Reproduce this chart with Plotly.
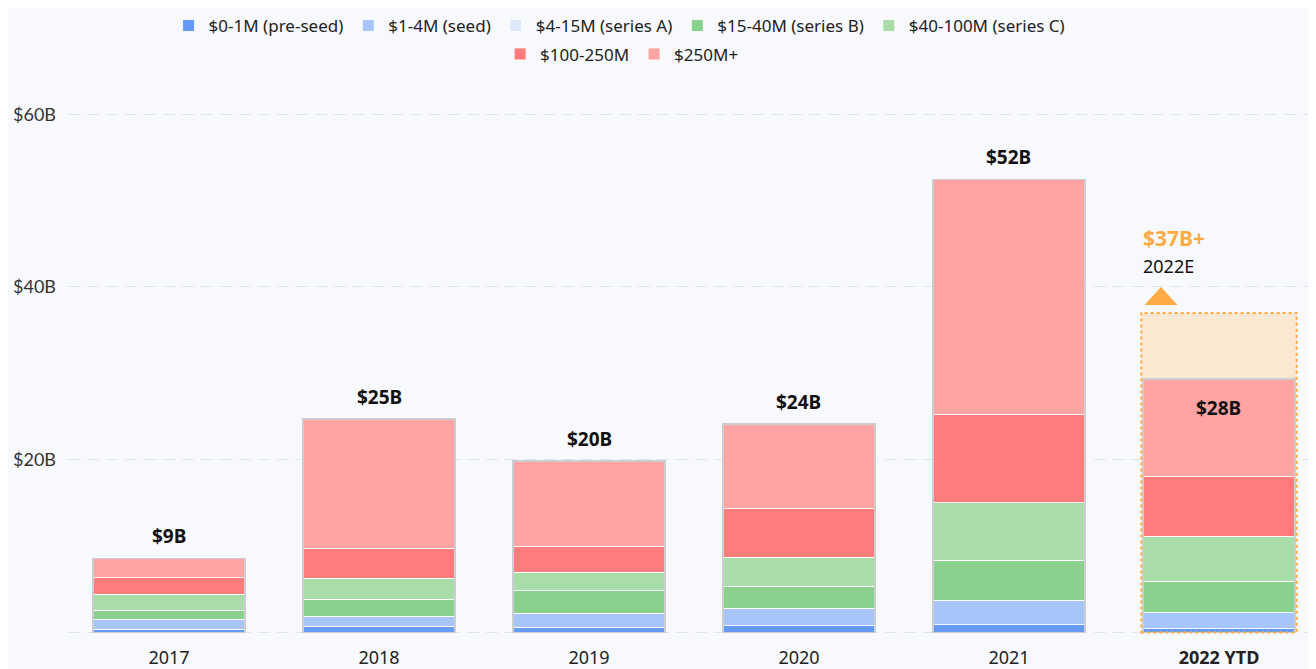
import plotly.graph_objects as go

years = ["2017", "2018", "2019", "2020", "2021", "<b>2022 YTD</b>"]
series_names = ["$0-1M (pre-seed)", "$1-4M (seed)", "$4-15M (series A)", "$15-40M (series B)",
                "$40-100M (series C)", "$100-250M", "$250M+"]
pre_seed = [0.38, 0.70, 0.58, 0.76, 0.88, 0.42]
seed = [1.16, 1.16, 1.66, 2.05, 2.86, 1.85]
series_a = [0, 0, 0, 0, 0, 0]
series_b = [1.04, 1.97, 2.58, 2.51, 4.63, 3.64]
series_c = [1.85, 2.43, 2.13, 3.36, 6.64, 5.25]
m100_250 = [1.89, 3.48, 3.05, 5.63, 10.24, 6.87]
m250_plus = [2.25, 14.98, 9.85, 9.81, 27.20, 11.32]
total_labels = ["$9B", "$25B", "$20B", "$24B", "$52B", "$28B"]
estimate_2022 = 37.0
estimate_label = "$37B+"
estimate_sub = "2022E"
y_ticks = [0, 20, 40, 60]
y_ticktext = ["", "$20B", "$40B", "$60B"]

series = [pre_seed, seed, series_a, series_b, series_c, m100_250, m250_plus]
colors = ["#659af6", "#a8c5fa", "#dce8fd", "#8bd18e", "#a8dca8", "#ff7c7c", "#ffa3a3"]

xs = list(range(len(years)))
totals = [sum(s[i] for s in series) for i in xs]
BW = 0.724
BG = "#f8f9fc"
ORANGE = "#ffab45"

fig = go.Figure()
for name, vals, col in zip(series_names, series, colors):
    fig.add_trace(go.Bar(
        x=xs, y=vals, name=name, width=BW,
        marker=dict(color=col, line=dict(color="rgba(255,255,255,0.85)", width=1)),
        legend="legend" if name not in ("$100-250M", "$250M+") else "legend2",
        hoverinfo="skip",
    ))

# outline of each full bar
fig.add_trace(go.Bar(
    x=xs, y=totals, width=BW, xaxis="x2", showlegend=False, hoverinfo="skip",
    marker=dict(color="rgba(0,0,0,0)", line=dict(color="#cbcdd3", width=1.5)),
))

last = xs[-1]
# 2022 estimate fill and dotted frame
fig.add_shape(type="rect", x0=last - BW / 2 - 0.008, x1=last + BW / 2 + 0.008,
              y0=totals[-1], y1=estimate_2022, fillcolor="#fae8d3",
              line=dict(width=0), layer="below")
fig.add_shape(type="rect", x0=last - BW / 2 - 0.008, x1=last + BW / 2 + 0.008,
              y0=0, y1=estimate_2022, fillcolor="rgba(0,0,0,0)",
              line=dict(color=ORANGE, width=2, dash="dot"), layer="above")
# triangle marker above the estimate frame (pixel-sized, anchored to the estimate)
fig.add_shape(type="path", xref="x", yref="y",
              xsizemode="pixel", ysizemode="pixel",
              xanchor=last - 0.276, yanchor=estimate_2022,
              path="M-16.5,8 L16.5,8 L0,26 Z",
              fillcolor=ORANGE, line=dict(width=0), layer="above")

# total labels
for i in xs:
    if i == last:
        fig.add_annotation(x=i, y=totals[i], text="<b>" + total_labels[i] + "</b>",
                           showarrow=False, yanchor="top", yshift=-14,
                           font=dict(size=19, color="#111", family="Noto Sans"))
    else:
        fig.add_annotation(x=i, y=totals[i], text="<b>" + total_labels[i] + "</b>",
                           showarrow=False, yanchor="bottom", yshift=7,
                           font=dict(size=19, color="#111", family="Noto Sans"))

fig.add_annotation(x=last - BW / 2 - 0.01, y=estimate_2022, text="<b>" + estimate_label + "</b>",
                   showarrow=False, xanchor="left", yanchor="middle", yshift=75,
                   font=dict(size=21, color=ORANGE, family="Noto Sans"))
fig.add_annotation(x=last - BW / 2 - 0.01, y=estimate_2022, text=estimate_sub,
                   showarrow=False, xanchor="left", yanchor="middle", yshift=47,
                   font=dict(size=18, color="#111", family="Noto Sans"))

xr = [-0.481, 5.462]
fig.update_layout(
    width=1308, height=661,
    barmode="stack",
    paper_bgcolor=BG, plot_bgcolor=BG,
    margin=dict(l=60, r=0, t=89, b=34, autoexpand=False),
    font=dict(family="Noto Sans", size=16, color="#222"),
    xaxis=dict(range=xr, tickvals=xs, ticktext=years, showgrid=False, zeroline=False,
               ticks="", automargin=False, ticklabelstandoff=10,
               tickfont=dict(size=18, color="#222")),
    xaxis2=dict(range=xr, overlaying="x", visible=False),
    yaxis=dict(range=[-0.3, 62], tickvals=y_ticks, ticktext=y_ticktext, zeroline=False,
               showgrid=True, gridcolor="#e1e4ea", griddash="12px,7px", gridwidth=1.2,
               ticks="", automargin=False, ticklabelstandoff=11,
               tickfont=dict(size=18, color="#333", family="Lato")),
    legend=dict(orientation="h", x=0.442, xanchor="center", yref="container", y=1.0, yanchor="top",
                bgcolor="rgba(0,0,0,0)", font=dict(size=17, color="#222"),
                itemclick=False, traceorder="normal"),
    legend2=dict(orientation="h", x=0.444, xanchor="center", yref="container", y=0.957, yanchor="top",
                 bgcolor="rgba(0,0,0,0)", font=dict(size=17, color="#222"),
                 itemclick=False, traceorder="normal"),
    showlegend=True,
)

fig.write_html("out.html")
